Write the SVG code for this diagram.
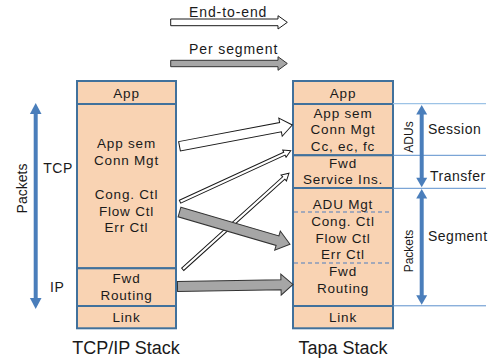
<svg xmlns="http://www.w3.org/2000/svg" width="493" height="358" viewBox="0 0 493 358">
<style>
  text { font-family: "Liberation Sans", Arial, sans-serif; fill: #1a1a1a; }
  .t { font-size: 13.5px; text-anchor: middle; letter-spacing: 0.8px; }
  .lbl { font-size: 14px; letter-spacing: 0.5px; }
  .leg { font-size: 14px; letter-spacing: 0.9px; }
  .title { font-size: 18px; text-anchor: middle; }
  .rot { font-size: 12px; text-anchor: middle; }
  .rotl { font-size: 14px; text-anchor: middle; }
  .row { fill: #f9d3b3; stroke: #41719c; stroke-width: 2; }
  .dash { stroke: #4f7fbf; stroke-width: 1.2; stroke-dasharray: 4 3; fill: none; }
  .hl { stroke: #5b8fcc; stroke-width: 1; }
  .e2e { fill: #ffffff; stroke: #1a1a1a; stroke-width: 1; stroke-linejoin: miter; }
  .seg { fill: #a6a6a6; stroke: #333333; stroke-width: 1; stroke-linejoin: miter; }
  .blue { fill: #4a7ebb; }
  .shaft { stroke: #4a7ebb; stroke-width: 4; }
</style>

<g id="legend">
  <text class="leg" x="189" y="17">End-to-end</text>
  <path class="e2e" d="M170.7,19 L278,19 L278,15.7 L287.3,22.35 L278,29 L278,25.7 L170.7,25.7 Z"/>
  <text class="leg" x="189" y="53.5">Per segment</text>
  <path class="seg" d="M170.7,60.3 L278,60.3 L278,56.7 L287.3,63.5 L278,70.3 L278,66.7 L170.7,66.7 Z"/>
</g>

<g id="packets-left">
  <line class="shaft" x1="35.7" y1="112" x2="35.7" y2="300"/>
  <path class="blue" d="M35.7,103 L41.5,114 L29.9,114 Z"/>
  <path class="blue" d="M35.7,309 L41.5,298 L29.9,298 Z"/>
  <text class="rotl" transform="translate(27,188.5) rotate(-90)">Packets</text>
</g>
<g id="label-tcp"><text class="lbl" x="43.3" y="172.7">TCP</text></g>
<g id="label-ip"><text class="lbl" x="50" y="291.7">IP</text></g>

<g id="tcpip-stack">
  <rect class="row" x="77" y="81" width="99" height="23"/>
  <rect class="row" x="77" y="104" width="99" height="164.3"/>
  <rect class="row" x="77" y="268.3" width="99" height="37.7"/>
  <rect class="row" x="77" y="306" width="99" height="22.3"/>
  <text class="t" x="126.5" y="97.5">App</text>
  <text class="t" x="126.5" y="148">App sem</text>
  <text class="t" x="126.5" y="164.5">Conn Mgt</text>
  <text class="t" x="126.5" y="199">Cong. Ctl</text>
  <text class="t" x="126.5" y="215.6">Flow Ctl</text>
  <text class="t" x="126.5" y="232.2">Err Ctl</text>
  <text class="t" x="126.5" y="283.3">Fwd</text>
  <text class="t" x="126.5" y="299.7">Routing</text>
  <text class="t" x="126.5" y="321.5">Link</text>
  <text class="title" x="126" y="353.5">TCP/IP Stack</text>
</g>

<g id="tapa-stack">
  <rect class="row" x="293" y="81" width="100" height="23"/>
  <rect class="row" x="293" y="104" width="100" height="51.3"/>
  <rect class="row" x="293" y="155.3" width="100" height="32.7"/>
  <rect class="row" x="293" y="188" width="100" height="118"/>
  <rect class="row" x="293" y="306" width="100" height="22.3"/>
  <line class="dash" x1="294" y1="212" x2="392" y2="212"/>
  <line class="dash" x1="294" y1="263" x2="392" y2="263"/>
  <text class="t" x="343" y="97.5">App</text>
  <text class="t" x="343" y="117.7">App sem</text>
  <text class="t" x="343" y="134.3">Conn Mgt</text>
  <text class="t" x="343" y="150.9">Cc, ec, fc</text>
  <text class="t" x="343" y="167.7">Fwd</text>
  <text class="t" x="343" y="184.3">Service Ins.</text>
  <text class="t" x="343" y="209.3">ADU Mgt</text>
  <text class="t" x="343" y="226">Cong. Ctl</text>
  <text class="t" x="343" y="242.7">Flow Ctl</text>
  <text class="t" x="343" y="259.4">Err Ctl</text>
  <text class="t" x="343" y="276.1">Fwd</text>
  <text class="t" x="343" y="292.8">Routing</text>
  <text class="t" x="343" y="321.5">Link</text>
  <text class="title" x="343" y="353.5">Tapa Stack</text>
</g>

<g id="tapa-layers">
  <line x1="393" y1="103.7" x2="486" y2="103.7" stroke="#9dc3e6" stroke-width="1.2"/>
  <line class="hl" x1="393" y1="155.3" x2="486" y2="155.3"/>
  <line class="hl" x1="393" y1="188.3" x2="486" y2="188.3"/>
  <line class="hl" x1="393" y1="305.8" x2="486" y2="305.8"/>
  <line class="shaft" x1="421.7" y1="113" x2="421.7" y2="179"/>
  <path class="blue" d="M421.7,105 L427.2,114.5 L416.2,114.5 Z"/>
  <path class="blue" d="M421.7,187.3 L427.2,177.8 L416.2,177.8 Z"/>
  <line class="shaft" x1="421.7" y1="197" x2="421.7" y2="296"/>
  <path class="blue" d="M421.7,189 L427.2,198.5 L416.2,198.5 Z"/>
  <path class="blue" d="M421.7,304.8 L427.2,295.3 L416.2,295.3 Z"/>
  <text class="rot" transform="translate(413,137) rotate(-90)">ADUs</text>
  <text class="rot" transform="translate(413,251) rotate(-90)">Packets</text>
  <text class="lbl" x="428" y="134">Session</text>
  <text class="lbl" x="430" y="181">Transfer</text>
  <text class="lbl" x="428" y="241">Segment</text>
</g>

<g id="connectors">
  <path class="e2e" transform="translate(179.5,146.3) rotate(-10.7)" d="M0,-4.75 L102.8,-4.75 L102.8,-9.2 L114.8,0 L102.8,9.2 L102.8,4.75 L0,4.75 Z"/>
  <path class="e2e" transform="translate(180,201.7) rotate(-24.7)" d="M0,-1.6 L114.9,-1.6 L114.9,-4 L121.9,0 L114.9,4 L114.9,1.6 L0,1.6 Z"/>
  <path class="e2e" transform="translate(182.7,269.3) rotate(-42.1)" d="M0,-1.6 L136.2,-1.6 L136.2,-4 L143.2,0 L136.2,4 L136.2,1.6 L0,1.6 Z"/>
  <path class="seg" transform="translate(179.5,212) rotate(16.3)" d="M0,-5 L102.1,-5 L102.1,-10 L115.1,0 L102.1,10 L102.1,5 L0,5 Z"/>
  <path class="seg" transform="translate(177.5,286.5) rotate(-1)" d="M0,-5 L103.5,-5 L103.5,-10.5 L115.5,0 L103.5,10.5 L103.5,5 L0,5 Z"/>
</g>
</svg>
